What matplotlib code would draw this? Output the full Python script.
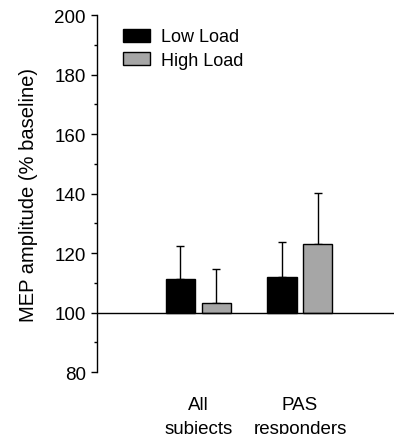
import matplotlib
matplotlib.use("Agg")
import matplotlib.pyplot as plt
import numpy as np

plt.rcParams['font.family'] = ['Liberation Sans', 'DejaVu Sans']

categories = ["All\nsubjects", "PAS\nresponders"]
series_names = ["Low Load", "High Load"]
low_load = [111.4, 112.0]
low_err = [10.8, 11.6]
high_load = [103.3, 123.0]
high_err = [11.5, 17.2]
colors = ["#000000", "#a6a6a6"]

fig = plt.figure(figsize=(3.94, 4.35), dpi=100)
ax = fig.add_axes([0.246, 0.1425, 0.754, 0.8205])

x = np.arange(len(categories))
w = 0.286
off = 0.177
base = 100
for vals, errs, c, name, sgn in [(low_load, low_err, colors[0], series_names[0], -1),
                                  (high_load, high_err, colors[1], series_names[1], 1)]:
    h = [v - base for v in vals]
    ax.bar(x + sgn * off, h, width=w, bottom=base, color=c, edgecolor="black",
           linewidth=1, label=name, zorder=2)
    ax.errorbar(x + sgn * off, vals, yerr=[np.zeros(len(vals)), errs], fmt="none",
                ecolor="black", elinewidth=1, capsize=3, capthick=1, zorder=1)

ax.axhline(base, color="black", linewidth=1, zorder=3)
ax.set_xlim(-1.0, 1.926)
ax.set_ylim(80, 200)
ax.set_yticks(np.arange(80, 201, 20))
ax.set_yticks(np.arange(90, 200, 20), minor=True)
ax.tick_params(axis="y", which="major", length=4, width=1, labelsize=13.5, direction="out", pad=4)
ax.tick_params(axis="y", which="minor", length=2.5, width=1, direction="out")
ax.set_xticks(x)
ax.set_xticklabels(categories, fontsize=13.5, linespacing=1.55)
ax.tick_params(axis="x", length=0, pad=17)
for s in ["top", "right", "bottom"]:
    ax.spines[s].set_visible(False)
ax.spines["left"].set_linewidth(1)
ax.set_ylabel("MEP amplitude (% baseline)", fontsize=14.5, labelpad=12)

ax.legend(loc="upper left", bbox_to_anchor=(0.063, 0.983), borderaxespad=0, frameon=False,
          fontsize=13, handlelength=1.5, handleheight=0.72, handletextpad=0.6,
          labelspacing=0.35)

fig.savefig("out.png", dpi=100)
